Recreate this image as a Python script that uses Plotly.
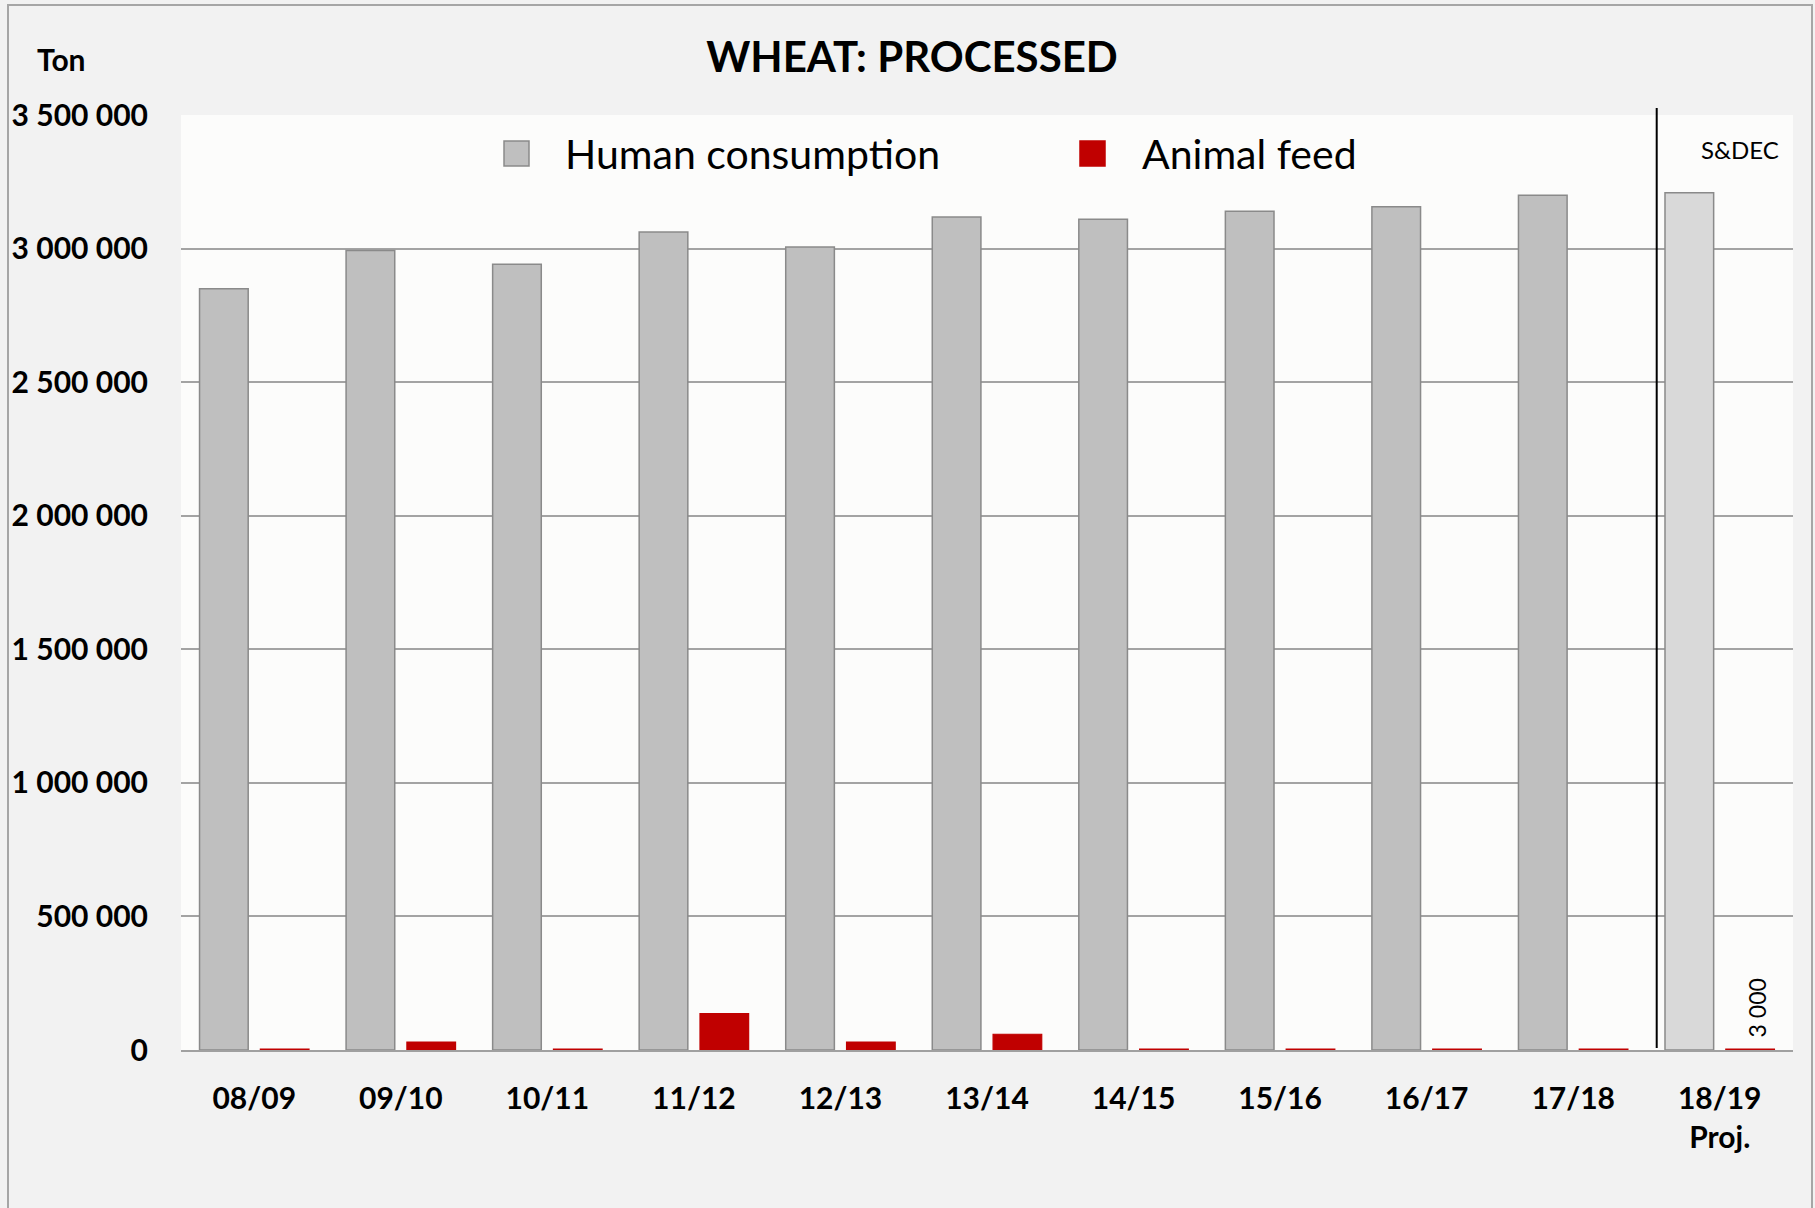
import plotly.graph_objects as go

W, H = 1815, 1208
L, R, T, B = 181, 1793, 115, 1050  # plot area in px

seasons = ["08/09", "09/10", "10/11", "11/12", "12/13", "13/14",
           "14/15", "15/16", "16/17", "17/18", "18/19"]
tick_text = ["08/09", "09/10", "10/11", "11/12", "12/13", "13/14",
             "14/15", "15/16", "16/17", "17/18", "18/19<br>Proj."]
human = [2850000, 2993000, 2941000, 3062000, 3006000, 3118000,
         3110000, 3140000, 3157000, 3200000, 3209000]
feed = [3000, 30000, 3000, 136000, 30000, 59000,
        3000, 3000, 3000, 3000, 3000]
y_ticks = [0, 500000, 1000000, 1500000, 2000000, 2500000, 3000000, 3500000]

GREY, GREY_PROJ, RED = "#bfbfbf", "#d9d9d9", "#c00000"
FONT = "Lato, 'Open Sans', sans-serif"


def px(x):  # pixel -> paper x
    return (x - L) / (R - L)


def py(y):  # pixel -> paper y
    return (B - y) / (B - T)


fig = go.Figure()
fig.add_trace(go.Bar(
    x=seasons, y=human, name="Human consumption",
    marker=dict(color=[GREY] * (len(seasons) - 1) + [GREY_PROJ],
                line=dict(color="#8a8a8a", width=1.5)),
    showlegend=False))
fig.add_trace(go.Bar(
    x=seasons, y=feed, name="Animal feed",
    marker=dict(color=RED, line=dict(color=RED, width=1.2)),
    showlegend=False))

# label on the projected animal-feed bar
fig.add_annotation(x=seasons[-1], y=feed[-1], text=f"{feed[-1]:,}".replace(",", " "),
                   textangle=-90, showarrow=False, xshift=37, yshift=10,
                   xanchor="center", yanchor="bottom",
                   font=dict(family=FONT, size=23, color="#000"))

# projection separator and source
fig.add_shape(type="line", xref="x", yref="paper", x0=9.57, x1=9.57,
              y0=py(1048), y1=py(108), line=dict(color="#000", width=2))
fig.add_annotation(xref="paper", yref="paper", x=px(1740), y=py(149), text="S&DEC",
                   xanchor="center", yanchor="middle", showarrow=False,
                   font=dict(family=FONT, size=24, color="#000"))

# hand-drawn legend (large squares like the original)
legend_items = [("Human consumption", GREY, "#8a8a8a", 504, 563),
                ("Animal feed", RED, RED, 1080, 1140)]
for label, fill, edge, sx, tx in legend_items:
    fig.add_shape(type="rect", xref="paper", yref="paper",
                  x0=px(sx), x1=px(sx + 25), y0=py(166), y1=py(141),
                  fillcolor=fill, line=dict(color=edge, width=1.5))
    fig.add_annotation(xref="paper", yref="paper", x=px(tx), y=py(153), text=label,
                       xanchor="left", yanchor="middle", showarrow=False,
                       font=dict(family=FONT, size=41, color="#000"))

# unit label
fig.add_annotation(xref="paper", yref="paper", x=px(61), y=py(59), text="<b>Ton</b>",
                   xanchor="center", yanchor="middle", showarrow=False,
                   font=dict(family=FONT, size=30, color="#000"))

# outer chart border
fig.add_shape(type="rect", xref="paper", yref="paper", x0=px(8), x1=px(1812),
              y0=py(1240), y1=py(5), line=dict(color="#a6a6a6", width=2), layer="below")

fig.update_layout(
    width=W, height=H, separators=". ",
    paper_bgcolor="#f2f2f2", plot_bgcolor="#fcfcfb",
    margin=dict(l=L, r=W - R, t=T, b=H - B, pad=0, autoexpand=False),
    barmode="group", bargap=0.17, bargroupgap=0.2,
    font=dict(family=FONT, color="#000"),
    title=dict(text="<b>WHEAT: PROCESSED</b>", x=912 / W, y=1 - 57 / H,
               xanchor="center", yanchor="middle",
               font=dict(family=FONT, size=42, color="#000")),
)
fig.update_xaxes(tickvals=seasons, ticktext=tick_text, showgrid=False,
                 showline=True, linecolor="#a0a0a0", linewidth=2,
                 ticks="", ticklabelstandoff=21, automargin=False,
                 tickfont=dict(family=FONT, size=30, weight="bold", color="#000"))
fig.update_yaxes(range=[0, 3500000], tickvals=y_ticks, tickformat=",d",
                 showgrid=True, gridcolor="#a3a3a3", gridwidth=1.5,
                 zeroline=False, ticks="", ticklabelstandoff=32, automargin=False,
                 tickfont=dict(family=FONT, size=30, weight="bold", color="#000"))

fig.write_html("out.html", config={"displayModeBar": False},
               post_script="document.body.style.margin='0';")
